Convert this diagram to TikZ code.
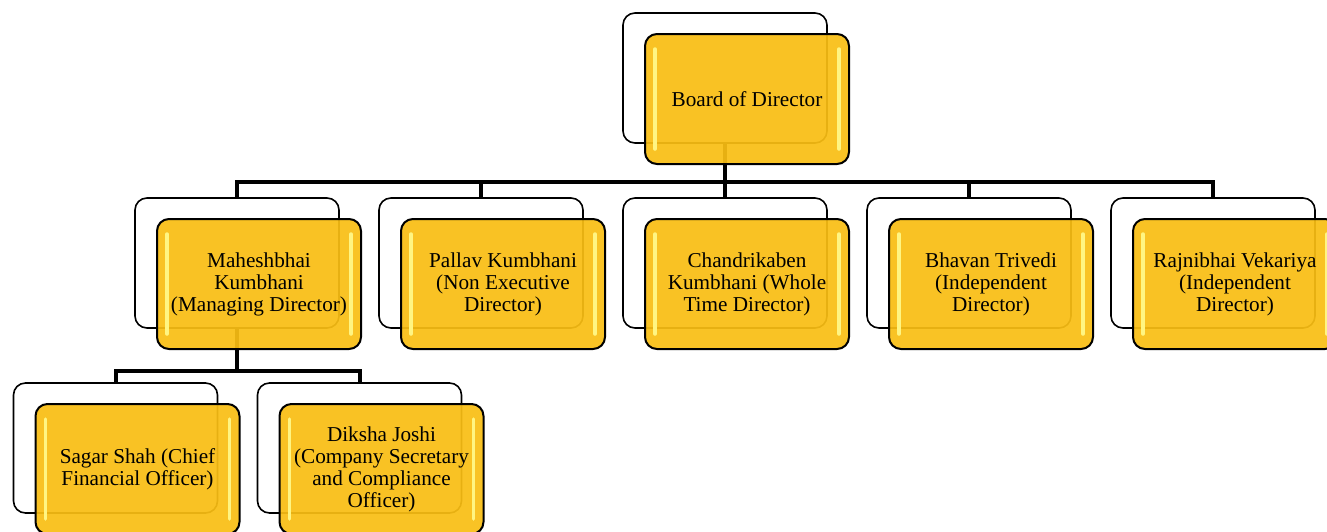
\documentclass[tikz,border=0pt]{standalone}
\usepackage{fontspec}
\setmainfont{Liberation Serif}
\definecolor{boxyellow}{RGB}{249,190,20}
\definecolor{glossyellow}{RGB}{255,245,130}
\tikzset{
  backbox/.style={draw, line width=1.6pt, rounded corners=12pt, fill=white,
    minimum width=204pt, minimum height=130pt, inner sep=0pt},
  frontbox/.style={draw, line width=2pt, rounded corners=12pt, fill=boxyellow,
    fill opacity=0.93, text opacity=1, minimum width=204pt, minimum height=130pt,
    inner sep=0pt, align=center, font=\fontsize{21.2}{22}\selectfont,
    path picture={
      \draw[glossyellow, line width=3.5pt, line cap=round]
        ([xshift=10pt,yshift=-15pt]path picture bounding box.north west) --
        ([xshift=10pt,yshift=15pt]path picture bounding box.south west);
      \draw[glossyellow, line width=3.5pt, line cap=round]
        ([xshift=-10pt,yshift=-15pt]path picture bounding box.north east) --
        ([xshift=-10pt,yshift=15pt]path picture bounding box.south east);
    }},
  conn/.style={line width=4pt}
}
\begin{document}
\begin{tikzpicture}[x=1pt,y=-1pt]
  \useasboundingbox (0,0) rectangle (1327,531);
  % back frames
  \node[backbox] (b-board) at (725,78) {};
  \node[backbox] (b-mahesh) at (237,263) {};
  \node[backbox] (b-pallav) at (481,263) {};
  \node[backbox] (b-chandri) at (725,263) {};
  \node[backbox] (b-bhavan) at (969,263) {};
  \node[backbox] (b-rajni) at (1213,263) {};
  \node[backbox] (b-sagar) at (115.5,448) {};
  \node[backbox] (b-diksha) at (359.5,448) {};
  % connectors
  \foreach \n in {mahesh,pallav,chandri,bhavan,rajni}
    \draw[conn] (b-board.south) -- ++(0,38) -| (b-\n.north);
  \foreach \n in {sagar,diksha}
    \draw[conn] (b-mahesh.south) -- ++(0,42) -| (b-\n.north);
  % front boxes
  \node[frontbox] (board) at ([shift={(22,21)}]b-board) {Board of Director};
  \node[frontbox] (mahesh) at ([shift={(22,21)}]b-mahesh) {Maheshbhai\\Kumbhani\\(Managing Director)};
  \node[frontbox] (pallav) at ([shift={(22,21)}]b-pallav) {Pallav Kumbhani\\(Non Executive\\Director)};
  \node[frontbox] (chandri) at ([shift={(22,21)}]b-chandri) {Chandrikaben\\Kumbhani (Whole\\Time Director)};
  \node[frontbox] (bhavan) at ([shift={(22,21)}]b-bhavan) {Bhavan Trivedi\\(Independent\\Director)};
  \node[frontbox] (rajni) at ([shift={(22,21)}]b-rajni) {Rajnibhai Vekariya\\(Independent\\Director)};
  \node[frontbox] (sagar) at ([shift={(22,21)}]b-sagar) {Sagar Shah (Chief\\Financial Officer)};
  \node[frontbox] (diksha) at ([shift={(22,21)}]b-diksha) {Diksha Joshi\\(Company Secretary\\and Compliance\\Officer)};
\end{tikzpicture}
\end{document}
